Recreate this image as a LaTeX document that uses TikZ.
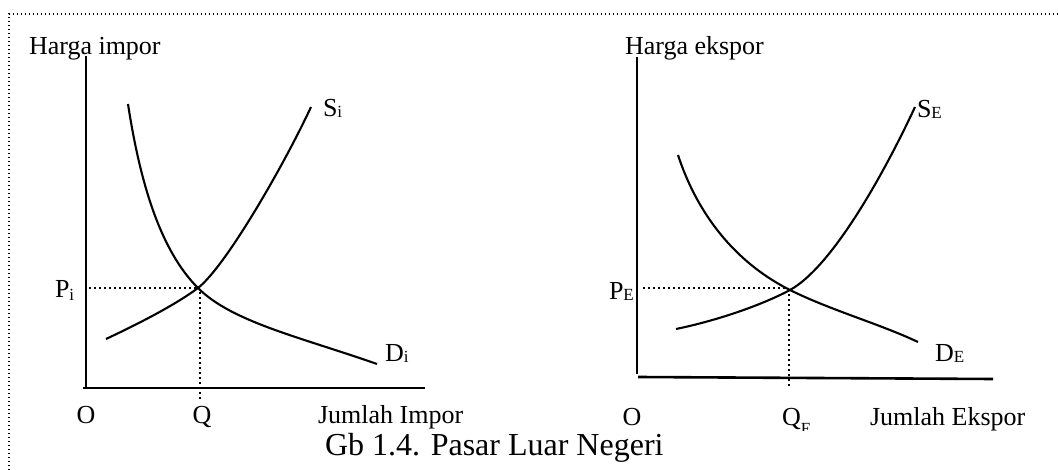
\documentclass[tikz,border=0pt]{standalone}
\usepackage{fontspec}
\setmainfont{Liberation Serif}
\newcommand{\subE}[1]{\raisebox{-1pt}{\fontsize{17}{17}\selectfont #1}}
\tikzset{
  lbl/.style={inner sep=0pt, outer sep=0pt, font=\fontsize{26}{30}\selectfont},
  captext/.style={inner sep=0pt, outer sep=0pt, font=\fontsize{32}{36}\selectfont},
  axis/.style={line width=2.6pt},
  curve/.style={line width=2.1pt},
  guide/.style={line width=1.8pt, dash pattern=on 1.8pt off 3.2pt},
  frame/.style={line width=1.4pt, dash pattern=on 1.4pt off 2.6pt}
}
\begin{document}
\begin{tikzpicture}[x=1pt,y=-1pt]
\useasboundingbox (0,0) rectangle (1058,470);
% frame
\coordinate (fb) at (9,470);
\coordinate (ftl) at (9,14);
\coordinate (ftr) at (1058,14);
\draw[frame] (fb) -- (ftl) -- (ftr);

% ---------- left graph ----------
\coordinate (Ly) at (86,56);
\coordinate (Lo) at (86,388);
\coordinate (Lx) at (425,388);
\draw[axis] (Ly) -- (Lo);
\draw[axis] (83,388) -- (Lx);
\coordinate (Ei) at (198,288);
\coordinate (Pi) at (89,288);
\coordinate (Qi) at (200,401);
\draw[guide] (Pi) -- (Ei);
\draw[guide] (200,292) -- (Qi);
% supply Si
\coordinate (Si0) at (106,339);
\coordinate (Si1) at (311,107);
\draw[curve] (Si0) .. controls (140,323) and (175,305) .. (Ei)
  .. controls (226,266) and (284,165) .. (Si1);
% demand Di
\coordinate (Di0) at (128,104);
\coordinate (Di1) at (377,364);
\draw[curve] (Di0) .. controls (140,182) and (160,250) .. (Ei)
  .. controls (232,322) and (300,337) .. (Di1);

\node[lbl, anchor=base west] (hi) at (29,55) {Harga impor};
\node[lbl, anchor=base west] (si) at (323,117) {S\subE{i}};
\node[lbl, anchor=base west] (pi) at (55,298) {P\raisebox{-3pt}{\fontsize{17}{17}\selectfont i}};
\node[lbl, anchor=base west] (di) at (385,362) {D\subE{i}};
\node[lbl, anchor=base] (oi) at (86,423) {O};
\node[lbl, anchor=base] (qi) at (202,423) {Q};
\node[lbl, anchor=base west] (ji) at (318,423) {Jumlah Impor};

% ---------- right graph ----------
\coordinate (Ry) at (637,57);
\coordinate (Ro) at (637,374);
\coordinate (Rx) at (993,379);
\draw[axis] (Ry) -- (Ro);
\draw[axis] (638,377) -- (Rx);
\coordinate (Ee) at (790,290);
\coordinate (Pe) at (643,288);
\coordinate (Qe) at (789,386);
\draw[guide] (Pe) -- (788,288);
\draw[guide] (789,294) -- (Qe);
% supply SE
\coordinate (Se0) at (676,329);
\coordinate (Se1) at (915,107);
\draw[curve] (Se0) .. controls (715,321) and (760,306) .. (Ee)
  .. controls (830,268) and (880,182) .. (Se1);
% demand DE
\coordinate (De0) at (678,155);
\coordinate (De1) at (918,342);
\draw[curve] (De0) .. controls (700,222) and (742,266) .. (Ee)
  .. controls (830,310) and (880,324) .. (De1);

\node[lbl, anchor=base west] (he) at (625,55) {Harga ekspor};
\node[lbl, anchor=base west] (se) at (917,118) {S\subE{E}};
\node[lbl, anchor=base west] (pe) at (609,300) {P\subE{E}};
\node[lbl, anchor=base west] (de) at (935,362) {D\subE{E}};
\node[lbl, anchor=base] (oe) at (632,425) {O};
\begin{scope}
\clip (770,395) rectangle (820,430);
\node[lbl, anchor=base west] (qe) at (782,425) {Q\raisebox{-9pt}{\fontsize{17}{17}\selectfont E}};
\end{scope}
\node[lbl, anchor=base west] (je) at (870,425) {Jumlah Ekspor};

\node[captext, anchor=base west] (caption) at (325,455) {Gb 1.4. Pasar Luar Negeri};
\end{tikzpicture}
\end{document}
